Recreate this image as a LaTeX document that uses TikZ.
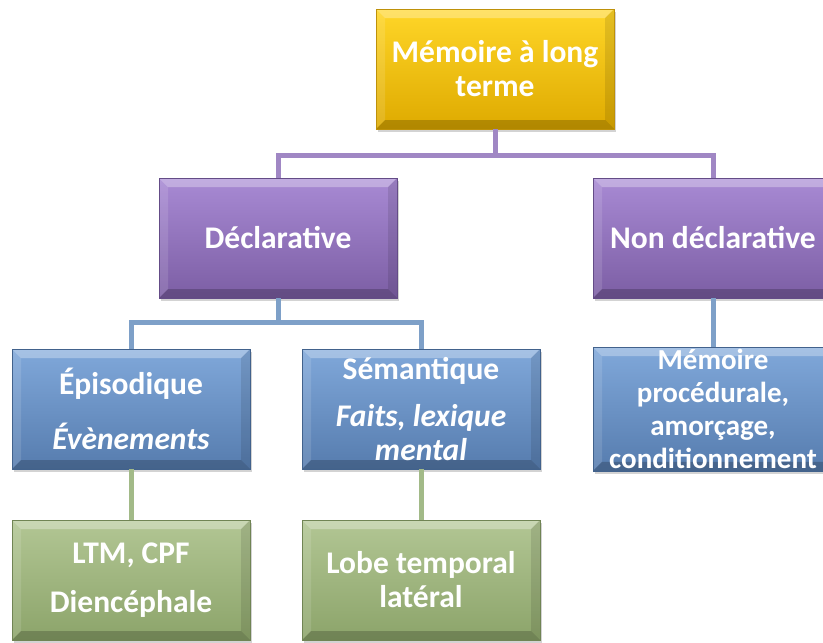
\documentclass[tikz,border=0pt]{standalone}
\usepackage{fontspec}
\setmainfont{Carlito}
\usetikzlibrary{positioning, shadows, calc}
\definecolor{GoldTop}{RGB}{255,214,40}
\definecolor{GoldBot}{RGB}{222,170,0}
\definecolor{GoldEdge}{RGB}{190,145,10}
\definecolor{LilacTop}{RGB}{168,138,212}
\definecolor{LilacBot}{RGB}{124,94,164}
\definecolor{LilacEdge}{RGB}{100,76,135}
\definecolor{SkyTop}{RGB}{128,168,218}
\definecolor{SkyBot}{RGB}{86,124,174}
\definecolor{SkyEdge}{RGB}{66,98,140}
\definecolor{SageTop}{RGB}{178,198,148}
\definecolor{SageBot}{RGB}{140,164,106}
\definecolor{SageEdge}{RGB}{112,132,84}
\definecolor{LilacLink}{RGB}{160,135,196}
\definecolor{SkyLink}{RGB}{126,160,200}
\definecolor{SageLink}{RGB}{162,186,136}

\begin{document}
\begin{tikzpicture}[x=1pt,y=-1pt,
    bevel/.style={path picture={
      \coordinate (bnw) at (path picture bounding box.north west);
      \coordinate (bne) at (path picture bounding box.north east);
      \coordinate (bsw) at (path picture bounding box.south west);
      \coordinate (bse) at (path picture bounding box.south east);
      \fill[white, opacity=0.3] (bnw) -- (bne) -- ($(bne)+(-9,9)$) -- ($(bnw)+(9,9)$) -- cycle;
      \fill[white, opacity=0.12] (bnw) -- ($(bnw)+(9,9)$) -- ($(bsw)+(9,-9)$) -- (bsw) -- cycle;
      \fill[black, opacity=0.2] (bsw) -- (bse) -- ($(bse)+(-9,-9)$) -- ($(bsw)+(9,-9)$) -- cycle;
      \fill[black, opacity=0.1] (bne) -- ($(bne)+(-9,9)$) -- ($(bse)+(-9,-9)$) -- (bse) -- cycle;}},
    box/.style={rectangle, minimum width=238pt, minimum height=120pt, inner sep=2pt,
      align=center, text=white, font=\bfseries\fontsize{31.5}{34}\selectfont, bevel,
      drop shadow={opacity=0.35, shadow xshift=2pt, shadow yshift=-3pt}},
    goldbox/.style={box, top color=GoldTop, bottom color=GoldBot, draw=GoldEdge},
    lilacbox/.style={box, top color=LilacTop, bottom color=LilacBot, draw=LilacEdge},
    skybox/.style={box, top color=SkyTop, bottom color=SkyBot, draw=SkyEdge},
    sagebox/.style={box, top color=SageTop, bottom color=SageBot, draw=SageEdge},
    link/.style={line width=5pt}]
  \useasboundingbox (0,0) rectangle (823,643);
  \node[goldbox] (ltm) at (495,69) {Mémoire à long\\terme};
  \node[lilacbox] (decl) at (278,238) {Déclarative};
  \node[lilacbox, minimum width=240pt] (nondecl) at (713,238) {Non déclarative};
  \node[skybox] (episo) at (131,409) {Épisodique\\[21pt]\textit{Évènements}};
  \node[skybox] (seman) at (421,409) {Sémantique\\[13pt]\textit{Faits, lexique}\\\textit{mental}};
  \node[skybox, minimum width=240pt, font=\bfseries\fontsize{29}{33}\selectfont] (proc) at (713,409) {Mémoire\\procédurale,\\amorçage,\\conditionnement};
  \node[sagebox] (ltmcpf) at (131,580) {LTM, CPF\\[15pt]Diencéphale};
  \node[sagebox] (lobe) at (421,580) {Lobe temporal\\latéral};
  \draw[link, LilacLink] (ltm.south) -- ++(0,26) -| (decl.north);
  \draw[link, LilacLink] (ltm.south) -- ++(0,26) -| (nondecl.north);
  \draw[link, SkyLink] (decl.south) -- ++(0,24) -| (episo.north);
  \draw[link, SkyLink] (decl.south) -- ++(0,24) -| (seman.north);
  \draw[link, SkyLink] (nondecl.south) -- (proc.north);
  \draw[link, SageLink] (episo.south) -- (ltmcpf.north);
  \draw[link, SageLink] (seman.south) -- (lobe.north);
\end{tikzpicture}
\end{document}
